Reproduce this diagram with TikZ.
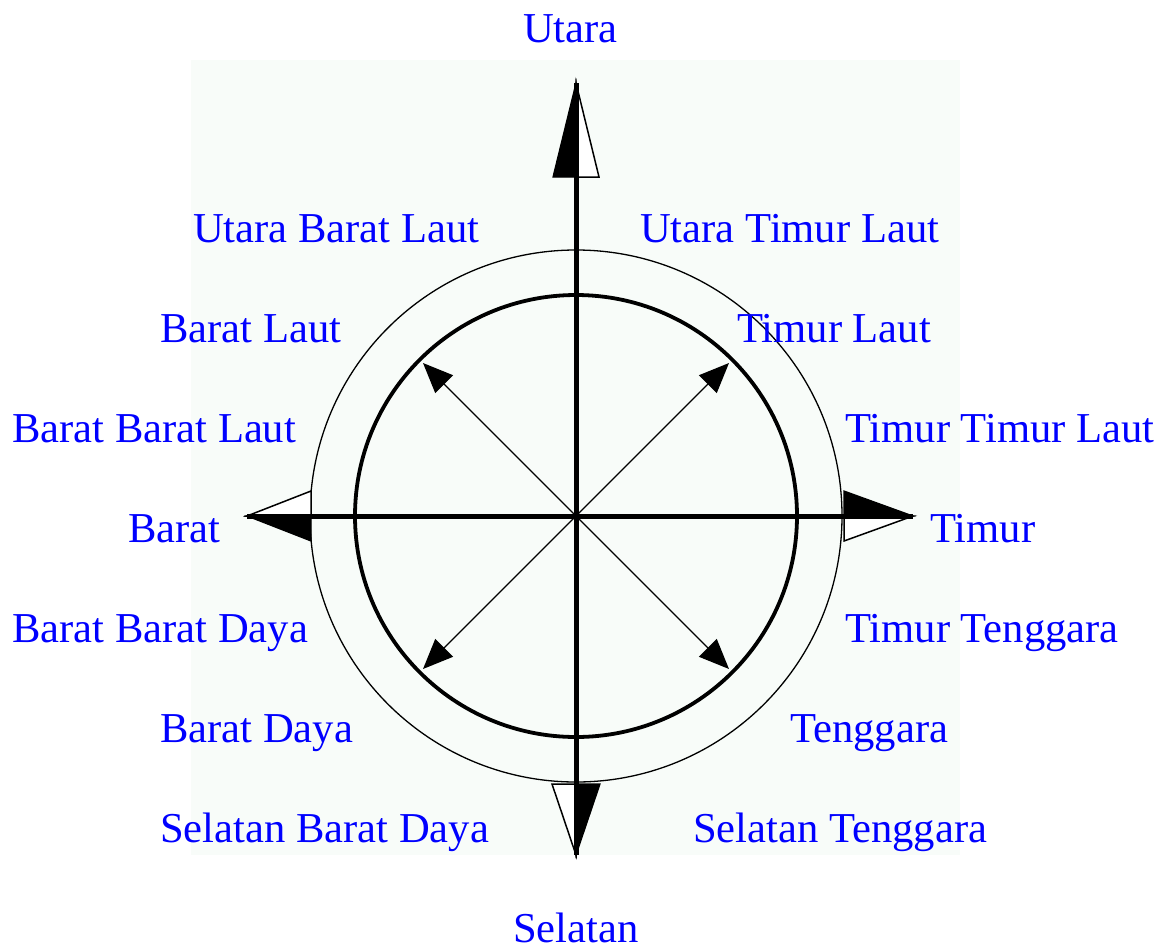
\documentclass[tikz,border=0pt]{standalone}
\usepackage{fontspec}
\setmainfont{Liberation Serif}
\usetikzlibrary{arrows.meta}
\definecolor{bgpale}{RGB}{248,252,249}
\definecolor{lblblue}{RGB}{0,0,255}
\tikzset{
  lbl/.style={anchor=base west, inner sep=0pt, text=lblblue, font=\fontsize{42.6}{50}\selectfont},
  axisline/.style={line width=5pt},
  diagarrow/.style={line width=1.3pt, -{Triangle[length=30pt,width=25pt]}},
  headblack/.style={fill=black, draw=black, line width=1.2pt},
  headwhite/.style={fill=white, draw=black, line width=1.5pt, line join=miter}
}
\begin{document}
\begin{tikzpicture}[x=1pt,y=-1pt]
\useasboundingbox (0,0) rectangle (1164,951);
\fill[bgpale] (191,60) rectangle (960,855);
\coordinate (O) at (576,516);
% circles
\draw[line width=1.3pt] (O) circle[radius=266];
\draw[line width=3.8pt] (O) circle[radius=221];
% axis end points
\coordinate (Ntip) at (576,83);
\coordinate (Stip) at (576,855);
\coordinate (Wtip) at (247,516);
\coordinate (Etip) at (913,516);
% arrowheads
\draw[headwhite] (Ntip) -- (599,177) -- (576,177) -- cycle;
\fill[headblack] (Ntip) -- (553,177) -- (576,177) -- cycle;
\draw[headwhite] (Stip) -- (552,784) -- (576,784) -- cycle;
\fill[headblack] (Stip) -- (600,784) -- (576,784) -- cycle;
\draw[headwhite] (Wtip) -- (311,491) -- (311,516) -- cycle;
\fill[headblack] (Wtip) -- (311,541) -- (311,516) -- cycle;
\draw[headwhite] (Etip) -- (844,541) -- (844,516) -- cycle;
\fill[headblack] (Etip) -- (844,491) -- (844,516) -- cycle;
% axes
\draw[axisline] (Ntip) -- (Stip);
\draw[axisline] (Wtip) -- (Etip);
% diagonal arrows
\coordinate (NE) at (729,363);
\coordinate (NW) at (423,363);
\coordinate (SE) at (729,669);
\coordinate (SW) at (423,669);
\draw[diagarrow] (O) -- (NE);
\draw[diagarrow] (O) -- (NW);
\draw[diagarrow] (O) -- (SE);
\draw[diagarrow] (O) -- (SW);
% labels
\node[lbl] (n) at (523,42) {Utara};
\node[lbl] (nnw) at (193,242) {Utara Barat Laut};
\node[lbl] (nne) at (640,242) {Utara Timur Laut};
\node[lbl] (nw) at (160,342) {Barat Laut};
\node[lbl] (ne) at (737,342) {Timur Laut};
\node[lbl] (wnw) at (12,442) {Barat Barat Laut};
\node[lbl] (ene) at (845,442) {Timur Timur Laut};
\node[lbl] (w) at (128,542) {Barat};
\node[lbl] (e) at (930,542) {Timur};
\node[lbl] (wsw) at (12,642) {Barat Barat Daya};
\node[lbl] (ese) at (845,642) {Timur Tenggara};
\node[lbl] (sw) at (160,742) {Barat Daya};
\node[lbl] (se) at (790,742) {Tenggara};
\node[lbl] (ssw) at (160,842) {Selatan Barat Daya};
\node[lbl] (sse) at (693,842) {Selatan Tenggara};
\node[lbl] (s) at (513,942) {Selatan};
\end{tikzpicture}
\end{document}
